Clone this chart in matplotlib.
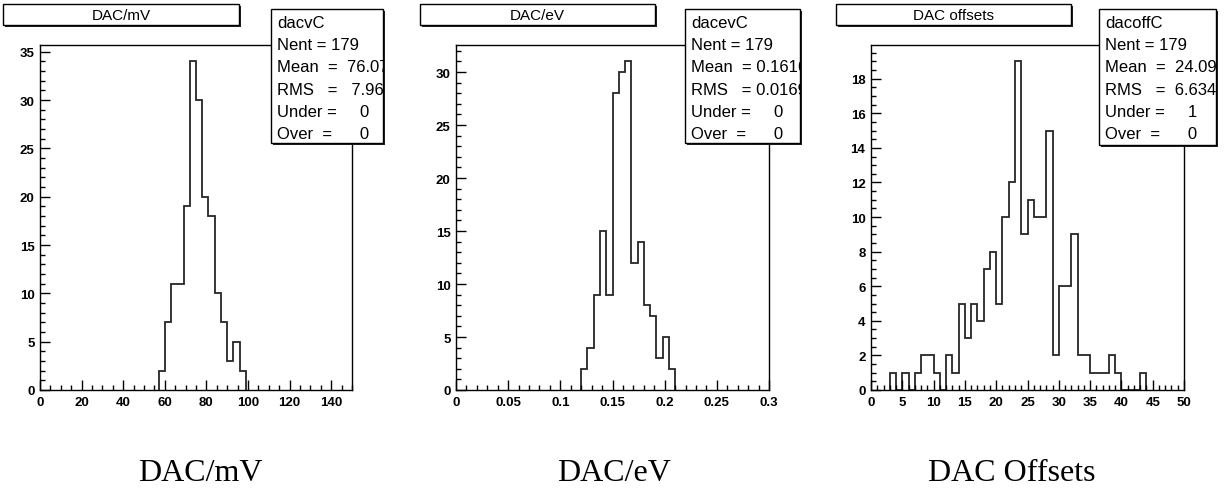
import numpy as np
import matplotlib
matplotlib.use('Agg')
import matplotlib.pyplot as plt
from matplotlib.pyplot import MultipleLocator
from matplotlib.patches import Rectangle

plt.rcParams['font.family'] = ['Liberation Sans', 'DejaVu Sans']

# --- data (bin counts) ---
mv_start, mv_width = 57, 3
mv_counts = [2, 7, 11, 11, 19, 34, 30, 20, 18, 10, 7, 3, 5, 2]

ev_start, ev_width = 0.12, 0.006
ev_counts = [2, 4, 9, 15, 9, 28, 30, 31, 12, 14, 8, 7, 3, 5, 2]

off_start, off_width = 3, 1
off_counts = [1, 0, 1, 0, 1, 2, 2, 1, 0, 2, 1, 5, 3, 5, 4, 7, 8, 5, 10, 12,
              19, 9, 11, 10, 10, 15, 2, 6, 6, 9, 2, 2, 1, 1, 1, 2, 1, 0, 0, 0, 1]

titles = ['DAC/mV', 'DAC/eV', 'DAC offsets']
captions = ['DAC/mV', 'DAC/eV', 'DAC Offsets']
stats = [
    ['dacvC', 'Nent = 179', 'Mean  =  76.07', 'RMS   =   7.96', 'Under =     0', 'Over  =      0'],
    ['dacevC', 'Nent = 179', 'Mean  = 0.1616', 'RMS   = 0.01692', 'Under =     0', 'Over  =      0'],
    ['dacoffC', 'Nent = 179', 'Mean  =  24.09', 'RMS   =  6.634', 'Under =     1', 'Over  =      0'],
]

W, H = 1225, 489
fig = plt.figure(figsize=(W / 100, H / 100), dpi=100)


def fx(px):
    return px / W


def fy(py):
    return 1 - py / H


def box(x0, y0, x1, y1, lw=1.0):
    # white box with a ROOT style drop shadow
    fig.add_artist(Rectangle((fx(x0 + 2), fy(y1 + 2)), fx(x1 - x0), (y1 - y0) / H,
                             transform=fig.transFigure, facecolor='#222222',
                             edgecolor='none', zorder=5))
    fig.add_artist(Rectangle((fx(x0), fy(y1)), fx(x1 - x0), (y1 - y0) / H,
                             transform=fig.transFigure, facecolor='white',
                             edgecolor='black', linewidth=lw, zorder=6))


panels = [
    dict(left=40, right=352, xmax=150, ymax=35.7, xmaj=20, xmin_=5, ymaj=5, ymin_=1,
         start=mv_start, width=mv_width, counts=mv_counts,
         title_box=(3, 5, 239, 26), stat_box=(271, 10, 383, 144), cap_x=200),
    dict(left=456, right=769, xmax=0.3, ymax=32.55, xmaj=0.05, xmin_=0.01, ymaj=5, ymin_=1,
         start=ev_start, width=ev_width, counts=ev_counts,
         title_box=(420, 5, 655, 26), stat_box=(685, 10, 800, 144), cap_x=614),
    dict(left=871, right=1184, xmax=50, ymax=19.95, xmaj=5, xmin_=1, ymaj=2, ymin_=0.5,
         start=off_start, width=off_width, counts=off_counts,
         title_box=(836, 5, 1071, 26), stat_box=(1099, 10, 1216, 146), cap_x=1012),
]

top, bottom = 46, 391
for i, p in enumerate(panels):
    ax = fig.add_axes([fx(p['left']), fy(bottom), fx(p['right'] - p['left']), (bottom - top) / H])
    edges = p['start'] + p['width'] * np.arange(len(p['counts']) + 1)
    ax.stairs(p['counts'], edges, baseline=0, color='#262626', linewidth=1.3)
    ax.set_xlim(0, p['xmax'])
    ax.set_ylim(0, p['ymax'])
    ax.xaxis.set_major_locator(MultipleLocator(p['xmaj']))
    ax.xaxis.set_minor_locator(MultipleLocator(p['xmin_']))
    ax.yaxis.set_major_locator(MultipleLocator(p['ymaj']))
    ax.yaxis.set_minor_locator(MultipleLocator(p['ymin_']))
    ax.tick_params(which='both', direction='in', top=False, right=False, width=1, color='black')
    ax.tick_params(which='major', length=7, labelsize=9.5, pad=4)
    ax.tick_params(which='minor', length=3.5)
    for lab in ax.get_xticklabels() + ax.get_yticklabels():
        lab.set_fontweight('bold')
    for s in ax.spines.values():
        s.set_linewidth(1)
        s.set_color('black')
    ax.xaxis.set_major_formatter(plt.FuncFormatter(lambda v, pos: '%g' % round(v, 4)))

    # title box
    x0, y0, x1, y1 = p['title_box']
    box(x0, y0, x1, y1)
    fig.text(fx((x0 + x1) / 2), fy((y0 + y1) / 2 + 1), titles[i], ha='center', va='center',
             fontsize=11, zorder=7)

    # stats box
    x0, y0, x1, y1 = p['stat_box']
    box(x0, y0, x1, y1)
    for k, line in enumerate(stats[i]):
        t = fig.text(fx(x0 + 6), fy(y0 + 13 + 22.4 * k), line, ha='left', va='center',
                     fontsize=12, zorder=7)
        t.set_clip_path(Rectangle((fx(x0), fy(y1)), fx(x1 - x0), (y1 - y0) / H,
                                  transform=fig.transFigure))

    # caption under the panel
    fig.text(fx(p['cap_x']), fy(481), captions[i], ha='center', va='baseline',
             fontsize=23, family='Liberation Serif')

plt.savefig('out.png', dpi=100)
